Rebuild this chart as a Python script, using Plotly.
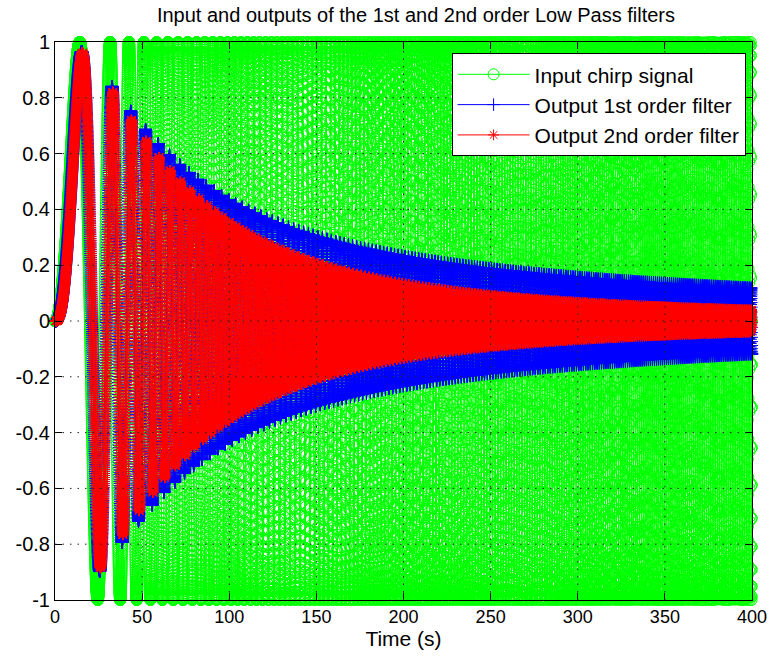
import numpy as np
import plotly.graph_objects as go

# Simulation settings: linear chirp swept from F_START to F_END Hz over T_END seconds
T_END = 400.0
DT = 0.025
F_START = 0.0
F_END = 1.0

# Corner frequencies (Hz) of the filters
FC_FIRST_ORDER = [0.12]          # single real pole
FC_SECOND_ORDER = [0.12, 0.35]   # two real poles

SERIES_NAMES = ["Input chirp signal", "Output 1st order filter", "Output 2nd order filter"]
SERIES_COLORS = ["#00ff00", "#0000ff", "#ff0000"]
SERIES_SYMBOLS = ["circle-open", "cross-thin-open", "asterisk-open"]
SERIES_MARKER_SIZES = [11, 9, 9]

X_TICKS = [0, 50, 100, 150, 200, 250, 300, 350, 400]
Y_TICKS = [-1, -0.8, -0.6, -0.4, -0.2, 0, 0.2, 0.4, 0.6, 0.8, 1]
Y_TICK_TEXT = ["-1", "-0.8", "-0.6", "-0.4", "-0.2", "0", "0.2", "0.4", "0.6", "0.8", "1"]

TITLE = "Input and outputs of the 1st and 2nd order Low Pass filters"
X_LABEL = "Time (s)"


def chirp(t):
    k = (F_END - F_START) / T_END
    phase = 2 * np.pi * (F_START * t + 0.5 * k * t ** 2)
    return np.sin(phase)


def lowpass(x, corners):
    """Cascade of discrete first-order sections, one per corner frequency."""
    y = np.asarray(x, dtype=float)
    for fc in corners:
        a = np.exp(-2 * np.pi * fc * DT)
        out = np.zeros_like(y)
        prev = 0.0
        for i, v in enumerate(y):
            prev = a * prev + (1 - a) * v
            out[i] = prev
        y = out
    return y


t = np.arange(0, T_END + DT / 2, DT)
u = chirp(t)
y1 = lowpass(u, FC_FIRST_ORDER)
y2 = lowpass(u, FC_SECOND_ORDER)

FONT = "Liberation Sans, Arial, sans-serif"

fig = go.Figure()
for series, name, color, symbol, msize in zip([u, y1, y2], SERIES_NAMES, SERIES_COLORS,
                                              SERIES_SYMBOLS, SERIES_MARKER_SIZES):
    fig.add_trace(go.Scatter(
        x=t, y=series, name=name, mode="lines+markers",
        line=dict(color=color, width=1),
        marker=dict(symbol=symbol, size=msize, color=color, line=dict(color=color, width=1)),
        cliponaxis=False,
    ))

# Dotted grid drawn over the data
grid_style = dict(color="#222222", width=1, dash="1.5px,6px")
shapes = []
for xv in X_TICKS[1:-1]:
    shapes.append(dict(type="line", xref="x", yref="y", x0=xv, x1=xv, y0=-1, y1=1,
                       line=grid_style, layer="above"))
for yv in Y_TICKS[1:-1]:
    shapes.append(dict(type="line", xref="x", yref="y", x0=0, x1=T_END, y0=yv, y1=yv,
                       line=grid_style, layer="above"))

axis_common = dict(
    showline=True, linecolor="black", linewidth=1, mirror="ticks",
    ticks="inside", ticklen=7, tickcolor="black", showgrid=False, zeroline=False,
    layer="above traces",
)

fig.update_layout(
    width=779, height=656,
    margin=dict(l=55, r=16, t=42, b=56),
    paper_bgcolor="white", plot_bgcolor="white",
    title=dict(text=TITLE, x=0.534, xanchor="center", y=1 - 15 / 656, yanchor="middle",
               yref="container", font=dict(family=FONT, size=20, color="black")),
    xaxis=dict(range=[0, T_END], tickvals=X_TICKS, ticktext=[str(v) for v in X_TICKS],
               tickfont=dict(family=FONT, size=18, color="black"),
               title=dict(text=X_LABEL, font=dict(family=FONT, size=21, color="black"), standoff=2),
               **axis_common),
    yaxis=dict(range=[-1, 1], tickvals=Y_TICKS, ticktext=Y_TICK_TEXT,
               tickfont=dict(family=FONT, size=20, color="black"), **axis_common),
    legend=dict(x=0.569, y=0.98, xanchor="left", yanchor="top", bgcolor="white",
                bordercolor="black", borderwidth=1, itemwidth=72,
                font=dict(family=FONT, size=21, color="black")),
    shapes=shapes,
    showlegend=True,
)

fig.write_html("out.html")
